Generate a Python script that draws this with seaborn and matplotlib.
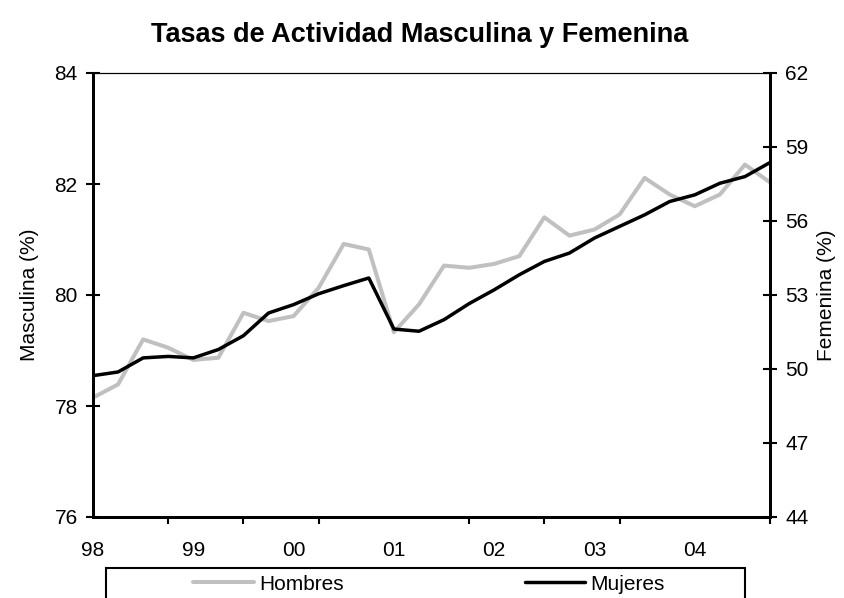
import numpy as np
import pandas as pd
import matplotlib
matplotlib.use("Agg")
import matplotlib.pyplot as plt
from matplotlib.patches import Rectangle
from matplotlib.lines import Line2D
import seaborn as sns

# quarterly data, 1998 Q1 .. 2004 Q4
quarters = list(range(28))
year_labels = ["98", "99", "00", "01", "02", "03", "04"]

hombres = [78.15, 78.39, 79.20, 79.05, 78.83, 78.87, 79.68, 79.53, 79.62, 80.13,
           80.92, 80.82, 79.33, 79.83, 80.53, 80.49, 80.56, 80.70, 81.40, 81.07,
           81.18, 81.45, 82.11, 81.81, 81.60, 81.81, 82.35, 82.03]
mujeres = [49.73, 49.88, 50.45, 50.51, 50.45, 50.79, 51.35, 52.27, 52.61, 53.05,
           53.38, 53.69, 51.62, 51.53, 52.00, 52.65, 53.21, 53.82, 54.36, 54.70,
           55.31, 55.78, 56.25, 56.79, 57.06, 57.53, 57.80, 58.37]

df = pd.DataFrame({"q": quarters, "Hombres": hombres, "Mujeres": mujeres})

sns.set_theme(style="white", rc={"text.color": "black", "axes.labelcolor": "black",
                                 "xtick.color": "black", "ytick.color": "black"})
plt.rcParams["font.family"] = ["Liberation Sans", "DejaVu Sans"]

fig = plt.figure(figsize=(8.45, 5.98), dpi=100)
ax = fig.add_axes([93 / 845, 1 - 517 / 598, (770 - 93) / 845, (517 - 73) / 598])
ax2 = ax.twinx()

sns.lineplot(data=df, x="q", y="Hombres", ax=ax, color="#c0c0c0", linewidth=2.9)
sns.lineplot(data=df, x="q", y="Mujeres", ax=ax2, color="black", linewidth=2.5)

ax.set_xlim(0, 27)
ax.set_ylim(76, 84)
ax.set_yticks([76, 78, 80, 82, 84])
ax2.set_ylim(44, 62)
ax2.set_yticks([44, 47, 50, 53, 56, 59, 62])

# labels once a year, tick marks every three quarters
ax.set_xticks(quarters[::4])
ax.set_xticklabels(year_labels)
ax.set_xticks(quarters[::3], minor=True)
ax.tick_params(axis="x", which="major", length=0, pad=17, labelsize=15)
ax.tick_params(axis="x", which="minor", length=5, width=1.5, direction="out", bottom=True)
ax.tick_params(axis="y", length=10, width=1.5, direction="inout", labelsize=15, left=True, pad=6)
ax2.tick_params(axis="y", length=10, width=1.5, direction="inout", labelsize=15, right=True, pad=6)

ax.set_xlabel("")
ax.set_ylabel("Masculina (%)", fontsize=15, labelpad=11)
ax2.set_ylabel("Femenina (%)", fontsize=15, labelpad=6)

for a in (ax, ax2):
    for side in ("left", "right", "bottom"):
        a.spines[side].set_linewidth(2)
        a.spines[side].set_color("black")
    a.spines["top"].set_linewidth(0.8)
    a.spines["top"].set_color("black")

fig.text(0.497, 0.942, "Tasas de Actividad Masculina y Femenina",
         ha="center", va="center", fontsize=19.5, fontweight="bold")

# legend box under the plot
fig.patches.append(Rectangle((106 / 845, -0.05), (745 - 106) / 845, 0.05 + 1 - 568 / 598,
                             transform=fig.transFigure, fill=False,
                             edgecolor="black", linewidth=1.5))
handles = [Line2D([], [], color="#c0c0c0", linewidth=2.9),
           Line2D([], [], color="black", linewidth=2.5)]
fig.legend(handles, ["Hombres", "Mujeres"], loc="center", ncol=2,
           bbox_to_anchor=(429 / 845, 1 - 584 / 598), frameon=False,
           fontsize=15, handlelength=2.9, handletextpad=0.25, columnspacing=8.7,
           borderpad=0)

fig.savefig("out.png", dpi=100)
